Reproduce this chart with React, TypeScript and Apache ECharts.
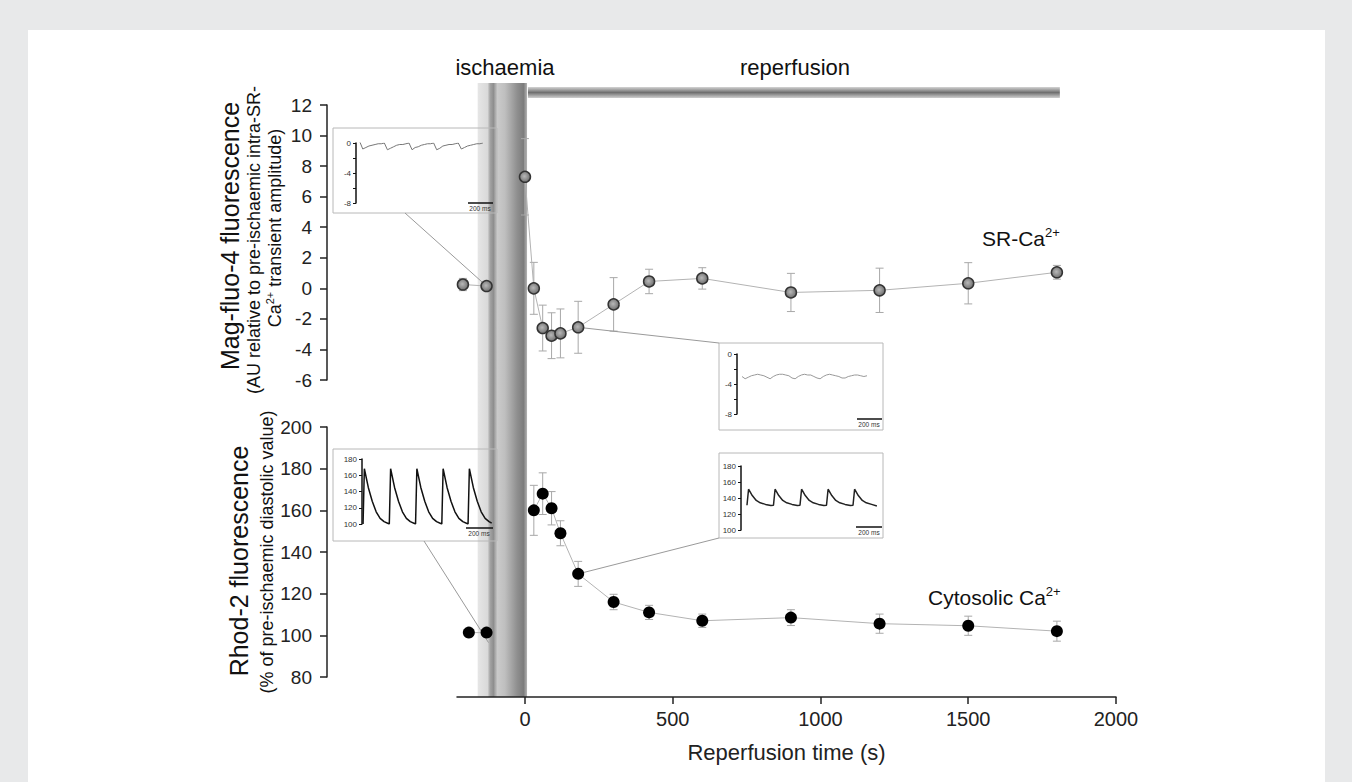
import React, { useEffect, useRef } from 'react';
import * as echarts from 'echarts';

const FONT = '"Liberation Sans", Arial, Helvetica, sans-serif';

// main x axis
const xMin = -230;
const xMax = 2000;
const xTickValues = [0, 500, 1000, 1500, 2000];

// ischaemia / reperfusion periods (s)
const ischStart = -160;
const ischEnd = 7;
const repStart = 10;
const repEnd = 1810;

// SR-Ca2+ (Mag-fluo-4)
const srTimesPre = [-210, -130];
const srValsPre = [0.25, 0.15];
const srErrPre = [0.4, 0];
const srTimes = [0, 30, 60, 90, 120, 180, 300, 420, 600, 900, 1200, 1500, 1800];
const srVals = [7.3, 0.0, -2.6, -3.1, -2.95, -2.55, -1.05, 0.45, 0.65, -0.27, -0.13, 0.33, 1.05];
const srErr = [2.5, 1.7, 1.5, 1.5, 1.6, 1.7, 1.75, 0.8, 0.7, 1.25, 1.45, 1.35, 0.45];

// Cytosolic Ca2+ (Rhod-2)
const cytoTimesPre = [-190, -130];
const cytoValsPre = [101.3, 101.3];
const cytoTimes = [30, 60, 90, 120, 180, 300, 420, 600, 900, 1200, 1500, 1800];
const cytoVals = [160, 168, 161, 149, 129.5, 116, 111, 107, 108.5, 105.6, 104.6, 102];
const cytoErr = [12, 10, 8, 6, 6, 3.7, 3.4, 3.2, 3.8, 4.6, 4.6, 4.8];

// inset traces (ms, value)
const traceATimes = [0, 25, 50, 75, 100, 125, 150, 175, 200, 225, 250, 275, 300, 325, 350, 375, 400, 425, 450, 475, 500, 525, 550, 575, 600, 625, 650, 675, 700, 725, 750, 775, 800, 825, 850, 875, 900, 925, 950, 975, 1000];
const traceAVals = [0.2, -0.8, -0.6, -0.4, -0.3, -0.2, -0.1, -0.1, 0.0, -0.9, -0.7, -0.5, -0.3, -0.2, -0.2, -0.1, 0.0, -0.9, -0.6, -0.5, -0.3, -0.2, -0.1, -0.1, 0.0, -0.9, -0.7, -0.4, -0.3, -0.2, -0.2, -0.1, 0.0, -0.8, -0.6, -0.4, -0.3, -0.2, -0.1, -0.1, 0.0];
const traceBTimes = [0, 25, 50, 75, 100, 125, 150, 175, 200, 225, 250, 275, 300, 325, 350, 375, 400, 425, 450, 475, 500, 525, 550, 575, 600, 625, 650, 675, 700, 725, 750, 775, 800, 825, 850, 875, 900, 925, 950, 975, 1000];
const traceBVals = [-3.0, -3.3, -3.1, -2.9, -2.8, -2.7, -2.8, -2.9, -3.1, -3.3, -3.0, -2.8, -2.7, -2.7, -2.8, -2.9, -3.2, -3.3, -3.0, -2.8, -2.7, -2.8, -2.8, -3.0, -3.2, -3.3, -3.0, -2.8, -2.7, -2.8, -2.9, -3.0, -3.2, -3.2, -3.0, -2.9, -2.8, -2.8, -2.9, -3.0, -2.9];
const traceCTimes = [0, 10, 40, 70, 100, 130, 160, 200, 210, 240, 270, 300, 330, 360, 400, 410, 440, 470, 500, 530, 560, 600, 610, 640, 670, 700, 730, 760, 800, 810, 840, 870, 900, 930, 960, 980];
const traceCVals = [100, 168, 145, 128, 115, 107, 103, 100, 168, 145, 128, 115, 107, 103, 100, 168, 145, 128, 115, 107, 103, 100, 168, 145, 128, 115, 107, 103, 100, 168, 145, 128, 115, 107, 103, 101];
const traceDTimes = [0, 12, 40, 70, 100, 140, 180, 200, 212, 240, 270, 300, 340, 380, 400, 412, 440, 470, 500, 540, 580, 600, 612, 640, 670, 700, 740, 780, 800, 812, 840, 870, 900, 940, 980];
const traceDVals = [131, 151, 143, 137, 134, 132, 130.5, 131, 151, 143, 137, 134, 132, 130.5, 131, 151, 143, 137, 134, 132, 130.5, 131, 151, 143, 137, 134, 132, 130.5, 131, 151, 143, 137, 134, 132, 130];

const pairs = (xs: number[], ys: number[]) => xs.map((x, i) => [x, ys[i]]);

function errorSeries(xi: number, times: number[], vals: number[], errs: number[]) {
  const data = times
    .map((t, i) => [t, vals[i] - errs[i], vals[i] + errs[i], errs[i]])
    .filter((d) => d[3] > 0);
  return {
    type: 'custom',
    xAxisIndex: xi,
    yAxisIndex: xi,
    z: 1,
    silent: true,
    encode: { x: 0, y: [1, 2] },
    data,
    renderItem: (_p: any, api: any) => {
      const x = api.value(0);
      const lo = api.coord([x, api.value(1)]);
      const hi = api.coord([x, api.value(2)]);
      const w = 4;
      const style = { stroke: '#a8a8a8', lineWidth: 1, fill: null };
      return {
        type: 'group',
        children: [
          { type: 'line', shape: { x1: lo[0], y1: lo[1], x2: hi[0], y2: hi[1] }, style },
          { type: 'line', shape: { x1: lo[0] - w, y1: lo[1], x2: lo[0] + w, y2: lo[1] }, style },
          { type: 'line', shape: { x1: hi[0] - w, y1: hi[1], x2: hi[0] + w, y2: hi[1] }, style },
        ],
      };
    },
  };
}

const srMarker = {
  color: new echarts.graphic.RadialGradient(0.45, 0.45, 0.6, [
    { offset: 0, color: '#b8b8b8' },
    { offset: 1, color: '#6a6a6a' },
  ]),
  borderColor: '#333',
  borderWidth: 1.5,
};

function insetX(gridIndex: number, min: number, max: number) {
  return { type: 'value', gridIndex, min, max, show: false };
}
function insetY(gridIndex: number, min: number, max: number, interval: number, shown: number[]) {
  return {
    type: 'value',
    gridIndex,
    min,
    max,
    interval,
    axisLine: { show: true, onZero: false, lineStyle: { color: '#111', width: 1.5 } },
    axisTick: { show: true, length: 3, lineStyle: { color: '#111', width: 1 } },
    splitLine: { show: false },
    axisLabel: {
      fontSize: 8,
      color: '#333',
      margin: 5,
      fontFamily: FONT,
      formatter: (v: number) => (shown.indexOf(v) >= 0 ? String(v) : ''),
    },
  };
}

const mainY = (gridIndex: number, min: number, max: number, interval: number) => ({
  type: 'value',
  gridIndex,
  min,
  max,
  interval,
  offset: 130,
  axisLine: { show: true, onZero: false, lineStyle: { color: '#222', width: 1.5 } },
  axisTick: { show: true, length: 7, lineStyle: { color: '#222', width: 1.5 } },
  splitLine: { show: false },
  axisLabel: { fontSize: 19, color: '#222', margin: 15, fontFamily: FONT },
});

export default function App() {
  const ref = useRef<HTMLDivElement>(null);
  useEffect(() => {
    document.body.style.margin = '0';
    if (!ref.current) return;
    const chart = echarts.init(ref.current, undefined, { renderer: 'svg' });
    const option: any = {
      animation: false,
      backgroundColor: 'transparent',
      textStyle: { fontFamily: FONT },
      grid: [
        { left: 457, right: 236, top: 105, height: 275 },
        { left: 457, right: 236, top: 427, height: 250 },
        { left: 356, top: 143, width: 130, height: 60 },
        { left: 737, top: 354, width: 130, height: 60 },
        { left: 362, top: 459, width: 131, height: 65 },
        { left: 741, top: 466, width: 136, height: 64 },
      ],
      xAxis: [
        { type: 'value', gridIndex: 0, min: xMin, max: xMax, show: false },
        {
          type: 'value',
          gridIndex: 1,
          min: xMin,
          max: xMax,
          offset: 20,
          axisLine: { show: true, onZero: false, lineStyle: { color: '#222', width: 1.5 } },
          axisTick: { show: true, length: 7, customValues: xTickValues, lineStyle: { color: '#222', width: 1.5 } },
          axisLabel: {
            fontSize: 20, color: '#222', margin: 12, customValues: xTickValues, fontFamily: FONT,
            formatter: (v: number) => String(v),
          },
          splitLine: { show: false },
          name: 'Reperfusion time (s)',
          nameLocation: 'middle',
          nameGap: 44,
          nameTextStyle: { fontSize: 22, color: '#222', fontFamily: FONT },
        },
        insetX(2, -30, 1025),
        insetX(3, -40, 1000),
        insetX(4, -8, 990),
        insetX(5, -45, 981),
      ],
      yAxis: [
        mainY(0, -6, 12, 2),
        mainY(1, 80, 200, 20),
        insetY(2, -8, 0, 2, [0, -4, -8]),
        insetY(3, -8, 0, 2, [0, -4, -8]),
        insetY(4, 100, 180, 20, [100, 120, 140, 160, 180]),
        insetY(5, 100, 180, 20, [100, 120, 140, 160, 180]),
      ],
      series: [
        errorSeries(0, srTimesPre, srValsPre, srErrPre),
        errorSeries(0, srTimes, srVals, srErr),
        errorSeries(1, cytoTimes, cytoVals, cytoErr),
        {
          type: 'line', xAxisIndex: 0, yAxisIndex: 0, data: pairs(srTimesPre, srValsPre),
          symbol: 'circle', symbolSize: 11, itemStyle: srMarker,
          lineStyle: { color: '#b3b3b3', width: 1 }, z: 3,
        },
        {
          type: 'line', xAxisIndex: 0, yAxisIndex: 0, data: pairs(srTimes, srVals),
          symbol: 'circle', symbolSize: 11, itemStyle: srMarker,
          lineStyle: { color: '#b3b3b3', width: 1 }, z: 3,
        },
        {
          type: 'line', xAxisIndex: 1, yAxisIndex: 1, data: pairs(cytoTimesPre, cytoValsPre),
          symbol: 'circle', symbolSize: 12, itemStyle: { color: '#000' },
          lineStyle: { color: '#b3b3b3', width: 1 }, z: 3,
        },
        {
          type: 'line', xAxisIndex: 1, yAxisIndex: 1, data: pairs(cytoTimes, cytoVals),
          symbol: 'circle', symbolSize: 12, itemStyle: { color: '#000' },
          lineStyle: { color: '#b3b3b3', width: 1 }, z: 3,
        },
        {
          type: 'line', xAxisIndex: 2, yAxisIndex: 2, data: pairs(traceATimes, traceAVals),
          symbol: 'none', lineStyle: { color: '#777', width: 1 },
        },
        {
          type: 'line', xAxisIndex: 3, yAxisIndex: 3, data: pairs(traceBTimes, traceBVals),
          symbol: 'none', lineStyle: { color: '#999', width: 1 },
        },
        {
          type: 'line', xAxisIndex: 4, yAxisIndex: 4, data: pairs(traceCTimes, traceCVals),
          symbol: 'none', lineStyle: { color: '#111', width: 1.5 },
        },
        {
          type: 'line', xAxisIndex: 5, yAxisIndex: 5, data: pairs(traceDTimes, traceDVals),
          symbol: 'none', lineStyle: { color: '#222', width: 1.5 },
        },
      ],
    };
    chart.setOption(option);

    const xp = (v: number) => chart.convertToPixel({ xAxisIndex: 1 }, v) as number;
    const p0 = (x: number, y: number) => chart.convertToPixel({ gridIndex: 0 }, [x, y]) as number[];
    const p1 = (x: number, y: number) => chart.convertToPixel({ gridIndex: 1 }, [x, y]) as number[];

    const bx0 = xp(ischStart);
    const bx1 = xp(ischEnd);
    const rx0 = xp(repStart);
    const rx1 = xp(repEnd);

    const bandFill = new echarts.graphic.LinearGradient(0, 0, 1, 0, [
      { offset: 0, color: '#e6e6e6' },
      { offset: 0.2, color: '#d9d9d9' },
      { offset: 0.25, color: '#a4a4a4' },
      { offset: 0.32, color: '#8e8e8e' },
      { offset: 0.4, color: '#cacaca' },
      { offset: 0.55, color: '#bfbfbf' },
      { offset: 0.8, color: '#8f8f8f' },
      { offset: 0.93, color: '#7c7c7c' },
      { offset: 1, color: '#b4b4b4' },
    ]);
    const barFill = new echarts.graphic.LinearGradient(0, 0, 0, 1, [
      { offset: 0, color: '#d4d4d4' },
      { offset: 0.5, color: '#707070' },
      { offset: 1, color: '#cfcfcf' },
    ]);

    const boxStyle = { fill: 'none', stroke: '#b8b8b8', lineWidth: 1 };
    const lineStyle = { stroke: '#9a9a9a', lineWidth: 1 };
    const scaleStyle = { stroke: '#111', lineWidth: 1.5 };
    const smallText = (x: number, y: number) => ({
      type: 'text', x, y, z: 5,
      style: { text: '200 ms', fontSize: 6.5, fill: '#333', align: 'center', verticalAlign: 'top', fontFamily: FONT },
    });
    const rot = (text: string, x: number, y: number, size: number, rich?: any) => ({
      type: 'text', x, y, rotation: Math.PI / 2, z: 5,
      style: {
        text, fontSize: size, fill: '#111', align: 'center', verticalAlign: 'middle', fontFamily: FONT,
        rich,
      },
    });
    const supRich = (n: number, s: number) => ({
      n: { fontSize: n, fontFamily: FONT, fill: '#111', lineHeight: n + 4 },
      s: { fontSize: s, fontFamily: FONT, fill: '#111', verticalAlign: 'top', lineHeight: n + 4 },
    });

    const srPre2 = p0(srTimesPre[1], srValsPre[1]);
    const sr180 = p0(srTimes[5], srVals[5]);
    const cyPre2 = p1(cytoTimesPre[1], cytoValsPre[1]);
    const cy180 = p1(cytoTimes[4], cytoVals[4]);

    chart.setOption({
      graphic: [
        { type: 'rect', z: 0, shape: { x: bx0, y: 83, width: bx1 - bx0, height: 697 - 83 }, style: { fill: bandFill } },
        { type: 'rect', z: 0, shape: { x: rx0, y: 87, width: rx1 - rx0, height: 11 }, style: { fill: barFill } },
        { type: 'text', x: 505, y: 67, z: 5, style: { text: 'ischaemia', fontSize: 22, fill: '#111', align: 'center', verticalAlign: 'middle', fontFamily: FONT } },
        { type: 'text', x: 795, y: 67, z: 5, style: { text: 'reperfusion', fontSize: 22, fill: '#111', align: 'center', verticalAlign: 'middle', fontFamily: FONT } },
        { type: 'text', x: 982, y: 238, z: 5, style: { text: '{n|SR-Ca}{s|2+}', align: 'left', verticalAlign: 'middle', rich: supRich(21, 13) } },
        { type: 'text', x: 928, y: 597, z: 5, style: { text: '{n|Cytosolic Ca}{s|2+}', align: 'left', verticalAlign: 'middle', rich: supRich(21, 13) } },
        // axis titles
        rot('Mag-fluo-4 fluorescence', 230, 236, 25),
        rot('(AU relative to pre-ischaemic intra-SR-', 254, 240, 18),
        rot('{n|Ca}{s|2+}{n| transient amplitude)}', 275, 228, 18, supRich(18, 11)),
        rot('Rhod-2 fluorescence', 239, 561, 25),
        rot('(% of pre-ischaemic diastolic value)', 267, 552, 18),
        // inset boxes
        { type: 'rect', z: 1, shape: { x: 333, y: 128, width: 164, height: 85 }, style: boxStyle },
        { type: 'rect', z: 1, shape: { x: 719, y: 343, width: 164, height: 87 }, style: boxStyle },
        { type: 'rect', z: 1, shape: { x: 333, y: 449, width: 164, height: 92 }, style: boxStyle },
        { type: 'rect', z: 1, shape: { x: 719, y: 453, width: 164, height: 85 }, style: boxStyle },
        // scale bars
        { type: 'line', z: 5, shape: { x1: 468, y1: 203, x2: 493, y2: 203 }, style: scaleStyle },
        smallText(480, 205),
        { type: 'line', z: 5, shape: { x1: 857, y1: 419, x2: 882, y2: 419 }, style: scaleStyle },
        smallText(869, 421),
        { type: 'line', z: 5, shape: { x1: 466, y1: 528, x2: 493, y2: 528 }, style: scaleStyle },
        smallText(479, 530),
        { type: 'line', z: 5, shape: { x1: 856, y1: 527, x2: 882, y2: 527 }, style: scaleStyle },
        smallText(869, 529),
        // connectors
        { type: 'line', z: 1, shape: { x1: 405, y1: 213, x2: srPre2[0], y2: srPre2[1] }, style: lineStyle },
        { type: 'line', z: 1, shape: { x1: sr180[0], y1: sr180[1], x2: 719, y2: 343 }, style: lineStyle },
        { type: 'line', z: 1, shape: { x1: 424, y1: 541, x2: cyPre2[0] + 2, y2: cyPre2[1] + 10 }, style: lineStyle },
        { type: 'line', z: 1, shape: { x1: cy180[0], y1: cy180[1], x2: 719, y2: 538 }, style: lineStyle },
      ],
    });

    return () => chart.dispose();
  }, []);

  return (
    <div style={{ position: 'relative', width: 1352, height: 782, background: '#e8e9ea', overflow: 'hidden' }}>
      <div style={{ position: 'absolute', left: 28, top: 30, width: 1297, height: 752, background: '#fff' }} />
      <div ref={ref} style={{ position: 'absolute', left: 0, top: 0, width: 1352, height: 782 }} />
    </div>
  );
}
